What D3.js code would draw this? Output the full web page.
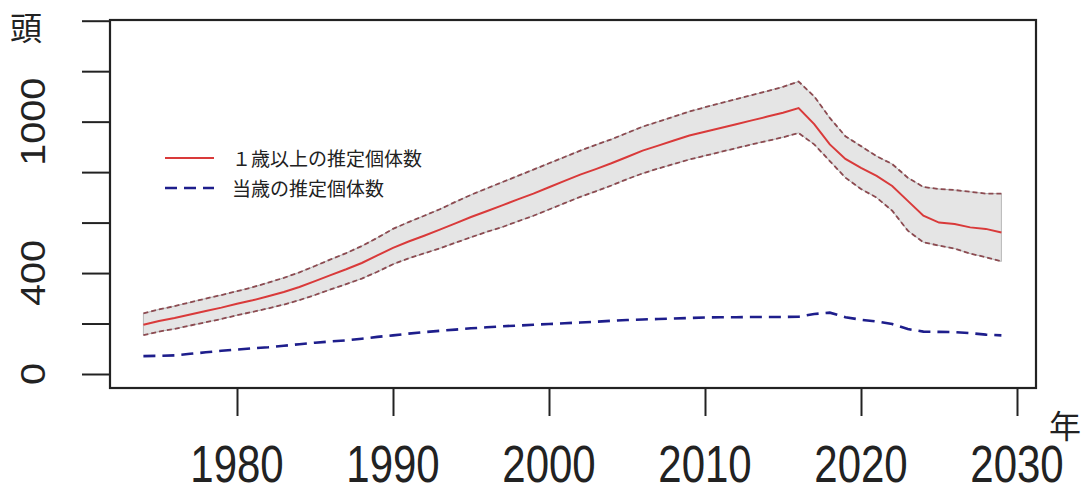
<html><head><meta charset="utf-8"><script src="https://d3js.org/d3.v7.min.js"></script></head>
<body style="margin:0;background:white;">
<script>
// 年ごとの推定値
years=[1974,1975,1976,1977,1978,1979,1980,1981,1982,1983,1984,1985,1986,1987,1988,1989,
1990,1991,1992,1993,1994,1995,1996,1997,1998,1999,2000,2001,2002,2003,2004,2005,2006,2007,2008,2009,
2010,2011,2012,2013,2014,2015,2016,2017,2018,2019,2020,2021,2022,2023,2024,2025,2026,2027,2028,2029];
// １歳以上の推定個体数
adult=[195,210,222,236,250,263,278,292,308,325,345,368,392,415,440,470,
500,525,548,572,597,622,645,668,692,715,740,765,790,812,835,860,885,905,925,945,
960,975,990,1005,1020,1035,1054,990,910,852,817,785,745,686,627,600,594,581,575,561];
// 上限
upper=[240,256,269,284,299,313,328,344,362,381,403,428,454,479,507,540,
575,602,627,653,682,710,735,760,785,810,835,860,885,908,930,955,980,1000,1020,1040,
1057,1073,1089,1105,1121,1138,1159,1100,1015,942,903,863,832,778,741,733,729,722,715,715];
// 下限
lower=[154,168,179,192,205,218,233,246,260,275,293,313,335,356,378,405,
435,458,478,498,520,542,563,582,605,627,652,677,702,724,747,772,795,814,832,850,
865,880,895,910,924,938,955,910,844,778,733,699,647,568,522,509,497,477,463,446];
// 当歳の推定個体数
calf=[71,72,74,80,86,92,97,102,106,112,118,124,129,133,140,147,
153,160,166,171,176,181,185,189,192,195,198,201,204,207,211,214,216,218,220,222,
224,225,225,226,226,226,227,238,243,225,215,208,198,178,168,167,166,162,156,153];

xTicks=[1980,1990,2000,2010,2020,2030];
yTicks=[0,200,400,600,800,1000,1200,1400];
yLabels=[0,400,1000];
legendNames=["１歳以上の推定個体数","当歳の推定個体数"];

W=1088; H=489;
box={l:110,r:1036,t:20,b:388};

x=d3.scaleLinear().domain([1980,2030]).range([237,1017]);
y=d3.scaleLinear().domain([0,1400]).range([374,20.7]);

svg=d3.select("body").append("svg").attr("width",W).attr("height",H)
  .style("font-family","'Liberation Sans', Arial, sans-serif");

pts=years.map(function(d,i){return {yr:d,a:adult[i],u:upper[i],lo:lower[i],c:calf[i]};});

// 信頼区間の帯
svg.append("path").datum(pts)
  .attr("d",d3.area().x(function(d){return x(d.yr);}).y0(function(d){return y(d.lo);}).y1(function(d){return y(d.u);}))
  .attr("fill","#e5e5e5").attr("stroke","#b8b8b8").attr("stroke-width",1);

line=function(k){return d3.line().x(function(d){return x(d.yr);}).y(function(d){return y(d[k]);});};

["u","lo"].forEach(function(k){
  svg.append("path").datum(pts).attr("d",line(k))
    .attr("fill","none").attr("stroke","#8c4a50").attr("stroke-width",1.8)
    .attr("stroke-dasharray","5,3");
});

svg.append("path").datum(pts).attr("d",line("a"))
  .attr("fill","none").attr("stroke","#d93a3a").attr("stroke-width",2);

svg.append("path").datum(pts).attr("d",line("c"))
  .attr("fill","none").attr("stroke","#1e1e8c").attr("stroke-width",2.6)
  .attr("stroke-dasharray","12,7");

// 枠
svg.append("rect").attr("x",box.l).attr("y",box.t)
  .attr("width",box.r-box.l).attr("height",box.b-box.t)
  .attr("fill","none").attr("stroke","#222").attr("stroke-width",2.2);

// y軸
ya=svg.append("g").attr("transform","translate("+box.l+",0)")
  .call(d3.axisLeft(y).tickValues(yTicks).tickSize(28).tickFormat(""));
ya.select(".domain").remove();
ya.selectAll("line").attr("stroke","#222").attr("stroke-width",2);

svg.selectAll(".ylab").data(yLabels).enter().append("text")
  .attr("transform",function(d){return "translate(45,"+y(d)+") rotate(-90) scale(1.1,1)";})
  .attr("text-anchor","middle").attr("font-size",36).attr("fill","#222")
  .text(function(d){return d;});

// x軸
xa=svg.append("g").attr("transform","translate(0,"+box.b+")")
  .call(d3.axisBottom(x).tickValues(xTicks).tickSize(28).tickFormat(""));
xa.select(".domain").remove();
xa.selectAll("line").attr("stroke","#222").attr("stroke-width",2);

svg.selectAll(".xlab").data(xTicks).enter().append("text")
  .attr("transform",function(d){return "translate("+x(d)+",482) scale(1,1.22)";})
  .attr("text-anchor","middle").attr("font-size",42).attr("fill","#222")
  .text(function(d){return d;});

cjk="'Noto Sans CJK JP', 'Noto Sans', sans-serif";
svg.append("text").attr("x",10).attr("y",40).attr("font-size",32)
  .style("font-family",cjk).attr("fill","#222").text("頭");
svg.append("text").attr("x",1049).attr("y",438).attr("font-size",32)
  .style("font-family",cjk).attr("fill","#222").text("年");

// 凡例
lg=svg.append("g");
lg.append("line").attr("x1",165).attr("x2",214).attr("y1",158).attr("y2",158)
  .attr("stroke","#d93a3a").attr("stroke-width",2.2);
lg.append("line").attr("x1",165).attr("x2",214).attr("y1",188).attr("y2",188)
  .attr("stroke","#1e1e8c").attr("stroke-width",2.6).attr("stroke-dasharray","12,7");
lg.selectAll("text").data(legendNames).enter().append("text")
  .attr("x",232).attr("y",function(d,i){return 166+i*30;})
  .attr("font-size",19).style("font-family",cjk).attr("fill","#222")
  .text(function(d){return d;});
</script>
</body></html>
